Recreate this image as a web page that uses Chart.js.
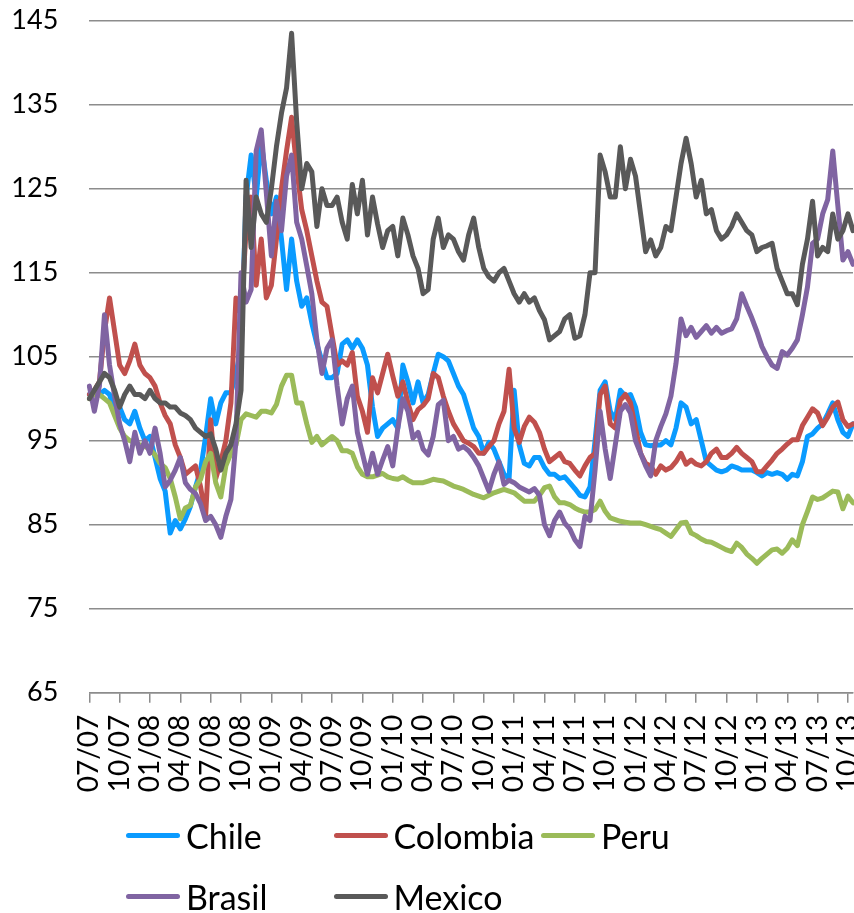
<!DOCTYPE html>
<html>
<head>
<meta charset="utf-8">
<script src="https://cdn.jsdelivr.net/npm/chart.js@4.4.0/dist/chart.umd.min.js"></script>
<style>
  html, body { margin: 0; padding: 0; background: #fff; }
  #wrap { position: relative; width: 854px; height: 913px; }
  #chart { display: block; }
  #legend {
    position: absolute; left: 126px; top: 805px;
    display: grid; grid-template-columns: 207.5px 207.5px 207.5px;
    font-family: Lato, sans-serif; font-size: 34px; color: #000;
  }
  #legend .item { display: flex; align-items: center; height: 61px; white-space: nowrap; }
  #legend .swatch { width: 54px; height: 5px; border-radius: 3px; margin-right: 6px; }
</style>
</head>
<body>
<div id="wrap">
  <canvas id="chart" width="854" height="913"></canvas>
  <div id="legend"></div>
</div>
<script>
// quarter labels shown on the x axis (one every 6 half-month points)
const tickLabels = ['07/07', '10/07', '01/08', '04/08', '07/08', '10/08', '01/09', '04/09', '07/09', '10/09',
    '01/10', '04/10', '07/10', '10/10', '01/11', '04/11', '07/11', '10/11', '01/12', '04/12',
    '07/12', '10/12', '01/13', '04/13', '07/13', '10/13'];

// half-month periods, Jul 2007 to Oct 2013
const periods = [];
for (let m = 0; m < 76; m++) {
    const month = (6 + m) % 12 + 1;
    const year = 7 + Math.floor((6 + m) / 12);
    const lbl = String(month).padStart(2, '0') + '/' + String(year).padStart(2, '0');
    periods.push(lbl, lbl);
}

const chile = [
    100.5, 101, 100.5, 101, 100.5, 98.5, 99, 97.5, 97, 98.5, 96.5, 95,
    95.5, 93, 90.5, 89, 84, 85.5, 84.5, 85.7, 87.2, 89.5, 91.5, 95.5,
    100, 97, 99.5, 100.7, 100.7, 103, 106, 124, 129, 124, 130.5, 126,
    122, 124, 119, 113, 119, 114, 111, 112, 109, 106.5, 104.5, 102.5,
    102.5, 103, 106.5, 107, 106, 107, 106, 104, 99, 95.5, 96.5, 97,
    97.5, 96.5, 104, 102, 99.5, 102, 99.5, 100.5, 103, 105.3, 105, 104.5,
    103, 101.5, 100.5, 98.5, 96.5, 95.5, 93.5, 94.8, 94, 92.5, 91, 90.5,
    101, 94.5, 92.3, 92, 93, 93, 91.8, 91, 91, 90.5, 90.7, 90,
    89.3, 88.5, 88.3, 89.5, 95, 101, 102, 98.5, 97.5, 101, 100.3, 100.5,
    99, 96, 94.5, 94.4, 94.5, 94.5, 95, 94.5, 96.5, 99.5, 99, 97,
    97.5, 95, 92.5, 92, 91.5, 91.3, 91.5, 92, 91.8, 91.5, 91.5, 91.5,
    91.2, 90.8, 91.2, 91, 91.2, 91, 90.4, 91, 90.8, 92.5, 95.5, 95.8,
    96.5, 97, 98.2, 99.5, 97.5, 96, 95.5, 97
];
const colombia = [
    100.5, 101, 102, 108, 112, 108, 104, 103, 104.5, 106.5, 104, 103,
    102.5, 101.5, 99.5, 98, 97, 94.5, 93, 91, 91.5, 92, 89.5, 86,
    97.5, 90.5, 92.5, 95, 99.5, 112, 110, 120, 124, 113.5, 119, 112,
    113.5, 119, 125, 129.5, 133.5, 127.5, 122.5, 120, 117, 114, 111.5, 111,
    107.5, 104, 104.5, 104, 105.5, 100.3, 98.5, 96, 102.5, 100.7, 103, 105.3,
    102.7, 100.3, 102, 99.5, 97.5, 98.7, 99.2, 100, 103, 102.5, 100.3, 98.5,
    97, 96, 95, 94.7, 94.3, 93.5, 93.5, 94.3, 95, 97, 98.5, 103.5,
    96.5, 94.8, 96.7, 97.8, 97.2, 96, 94, 92.5, 93, 93.5, 92.5, 92.3,
    91.5, 90.8, 92, 93, 93.5, 100.5, 101.5, 97, 96.5, 99.8, 100.5, 99.5,
    96.5, 93.5, 92.3, 92, 91, 92, 91.5, 91.8, 92.5, 93.5, 92.2, 92.7,
    92.2, 92, 92.5, 93.5, 94, 93, 93, 93.5, 94.2, 93.5, 93, 92.5,
    91.3, 91.3, 92, 92.7, 93.5, 94, 94.6, 95.1, 95.1, 96.8, 97.8, 98.8,
    98.3, 96.8, 97.8, 99, 99.6, 97.5, 96.7, 97
];
const peru = [
    100, 100.5, 100.5, 100, 99.5, 98, 96.5, 95.5, 95, 94.8, 94.5, 94.3,
    94, 93.3, 92.3, 91.8, 90.5, 88.3, 85.7, 87, 87.3, 89.5, 90.4, 92.5,
    93.5, 90, 88.3, 92, 93.5, 94.5, 97.5, 98.2, 98, 97.8, 98.5, 98.5,
    98.3, 99.3, 101.5, 102.8, 102.8, 99.5, 99.5, 97, 94.8, 95.5, 94.5, 95,
    95.5, 95, 93.8, 93.8, 93.5, 91.9, 91, 90.7, 90.7, 90.9, 91.1, 90.7,
    90.5, 90.4, 90.7, 90.3, 90, 90, 90, 90.2, 90.4, 90.3, 90.2, 89.9,
    89.6, 89.4, 89.2, 88.9, 88.6, 88.4, 88.2, 88.5, 88.8, 89, 89.2, 89,
    88.8, 88.3, 87.8, 87.8, 87.8, 88.5, 89.4, 89.6, 88.3, 87.6, 87.6, 87.4,
    87, 86.7, 86.5, 86.5, 86.8, 87.8, 86.6, 85.8, 85.6, 85.4, 85.3, 85.2,
    85.2, 85.2, 85, 84.8, 84.6, 84.4, 84, 83.6, 84.4, 85.2, 85.3, 84,
    83.7, 83.3, 83, 82.9, 82.6, 82.3, 82, 81.8, 82.8, 82.3, 81.5, 81,
    80.4, 81, 81.5, 82, 82.1, 81.6, 82.2, 83.2, 82.5, 85, 86.6, 88.3,
    88, 88.2, 88.6, 89, 88.9, 86.9, 88.4, 87.6
];
const brasil = [
    101.5, 98.5, 101.5, 110, 104, 100.3, 97, 95, 92.5, 96, 93.5, 95,
    93.5, 96.5, 93.5, 89.5, 90.3, 91.5, 93, 90, 89.2, 88.7, 87.5, 85.5,
    86, 85, 83.5, 86, 88, 95, 115, 111.5, 113, 129.5, 132, 124.5,
    117, 123.5, 120, 126.5, 129, 121, 119, 115.8, 112.5, 107, 103, 106,
    107, 101.5, 97, 100, 101.5, 96, 93.5, 91, 93.5, 91, 92.7, 94.3,
    92, 96.5, 100, 98.5, 95.3, 96, 94, 93.3, 95.5, 99.3, 99.8, 95,
    95.5, 94, 94.3, 93.8, 93, 92, 90.5, 89, 91, 92.5, 89.8, 90.3,
    90, 89.5, 89.2, 88.9, 89.3, 88.5, 85, 83.7, 85.5, 86.5, 85.2, 84.5,
    83.2, 82.4, 86, 85.5, 91.5, 98.5, 94, 90.5, 94.5, 98.5, 99.3, 98.3,
    95, 93.5, 92, 90.8, 95, 96.7, 98.2, 100.3, 104.2, 109.5, 107.5, 108.5,
    107.3, 108, 108.7, 107.8, 108.5, 107.8, 108.1, 108.3, 109.5, 112.5, 111, 109.6,
    108, 106.2, 105, 104, 103.6, 105.6, 105.2, 106, 107, 110, 113.3, 118.5,
    119, 122, 123.7, 129.5, 123, 116.5, 117.5, 116
];
const mexico = [
    100, 101, 102, 103, 102.5, 101, 99, 100.5, 101.5, 100.5, 100.5, 100,
    101, 100, 99.5, 99.5, 99, 99, 98.3, 98, 97.5, 96.5, 96, 95.5,
    95.8, 94, 91.5, 93.5, 94.5, 97, 101, 126, 118, 124, 122, 121,
    125, 130, 134, 137, 143.5, 133, 125, 128, 127, 120.5, 125, 123,
    123, 124, 121, 119, 125.5, 122, 126, 119.5, 124, 120.8, 118, 120,
    120.5, 117, 121.5, 119.5, 117, 115.5, 112.5, 113, 119, 121.5, 118, 119.5,
    119, 117.5, 116.5, 119.5, 121.5, 118, 115.5, 114.5, 114, 115, 115.5, 114,
    112.5, 111.5, 112.5, 111.5, 112, 110.5, 109.4, 107, 107.5, 108, 109.5, 110,
    107.2, 107.5, 110, 115, 115, 129, 127, 124, 124, 130, 125, 128.5,
    126.5, 122, 117.5, 118.9, 117, 118, 120.5, 120, 124, 128, 131, 128,
    124, 126, 122, 122.5, 120, 119, 119.5, 120.5, 122, 121, 120, 119.5,
    117.5, 118, 118.2, 118.5, 115.5, 114, 112.5, 112.5, 111.2, 116, 119, 123.5,
    117, 118, 117.5, 122, 119, 120, 122, 120
];

const seriesNames = ['Chile', 'Colombia', 'Peru', 'Brasil', 'Mexico'];
const seriesData = [chile, colombia, peru, brasil, mexico];
const seriesColors = ['#0A9BFF', '#C0504D', '#9BBB59', '#8064A2', '#595959'];

function build() {
    var ctx = document.getElementById('chart').getContext('2d');
    var datasets = seriesNames.map(function (name, i) {
        return {
            label: name,
            data: seriesData[i],
            borderColor: seriesColors[i],
            backgroundColor: seriesColors[i],
            order: seriesNames.length - i // later series drawn on top, like the original
        };
    });

    new Chart(ctx, {
        type: 'line',
        data: { labels: periods, datasets: datasets },
        options: {
            responsive: false,
            animation: false,
            layout: { padding: { left: 0, right: 1, top: 20.7, bottom: 120.3 } },
            elements: {
                point: { radius: 0 },
                line: { borderWidth: 5, tension: 0, borderJoinStyle: 'round', borderCapStyle: 'round' }
            },
            plugins: {
                legend: { display: false },
                tooltip: { enabled: false }
            },
            scales: {
                x: {
                    grid: { drawOnChartArea: false, color: '#8c8c8c', lineWidth: 1.5, tickLength: 10 },
                    border: { color: '#8c8c8c', width: 1.5 },
                    ticks: {
                        autoSkip: false,
                        minRotation: 90,
                        maxRotation: 90,
                        padding: 12,
                        color: '#000',
                        font: { family: 'Lato', size: 28 },
                        callback: function (v, i) { return i % 6 === 0 ? tickLabels[i / 6] : null; }
                    },
                    afterFit: function (scale) {
                        scale.height = 100;
                        scale.paddingLeft = 0;
                        scale.paddingRight = 0;
                    }
                },
                y: {
                    min: 65,
                    max: 145,
                    grid: { color: '#8c8c8c', lineWidth: 1.5, drawTicks: false },
                    border: { display: false },
                    ticks: { stepSize: 10, padding: 31, color: '#000', font: { family: 'Lato', size: 27 } },
                    afterFit: function (scale) {
                        scale.width = 89.3;
                        scale.paddingTop = 0;
                        scale.paddingBottom = 0;
                    }
                }
            }
        }
    });

    // legend laid out in columns like the original
    var legend = document.getElementById('legend');
    seriesNames.forEach(function (name, i) {
        var item = document.createElement('div');
        item.className = 'item';
        var sw = document.createElement('span');
        sw.className = 'swatch';
        sw.style.background = seriesColors[i];
        item.appendChild(sw);
        item.appendChild(document.createTextNode(name));
        legend.appendChild(item);
    });
}

document.fonts.load('28px Lato').then(build, build);
</script>
</body>
</html>
